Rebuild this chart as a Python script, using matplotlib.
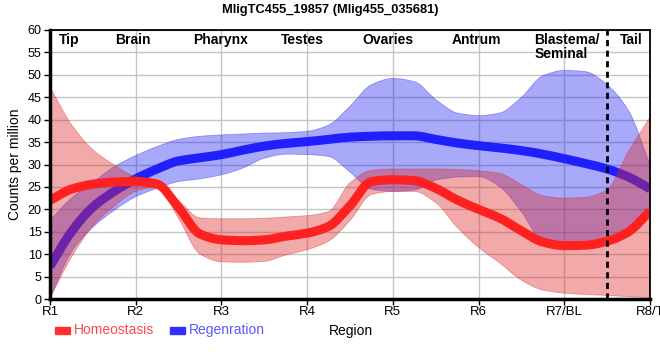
import numpy as np
import matplotlib
matplotlib.use("Agg")
import matplotlib.pyplot as plt
from matplotlib.patches import Rectangle, PathPatch
from matplotlib.path import Path

plt.rcParams['font.family'] = ['Liberation Sans', 'DejaVu Sans']

# positions along the body (region index), read every quarter region
pos = [1, 1.25, 1.5, 1.75, 2, 2.25, 2.5, 2.75, 3, 3.25, 3.5, 3.75, 4, 4.25, 4.5,
       4.75, 5, 5.25, 5.5, 5.75, 6, 6.25, 6.5, 6.75, 7, 7.25, 7.5, 7.75, 8]

regen_mean = [7.3, 15, 20.5, 24, 26.8, 29, 30.8, 31.5, 32.2, 33.2, 34.1, 34.7, 35.1, 35.6, 36.1,
              36.3, 36.4, 36.4, 35.6, 34.8, 34.2, 33.7, 33.1, 32.3, 31.3, 30.2, 29.0, 27.2, 24.6]
regen_hi = [17.5, 22.5, 26, 29.5, 32, 34, 35.6, 36.3, 36.6, 36.8, 37, 37.1, 37.4, 38.8, 43,
            47.8, 49.2, 48.5, 44.5, 41.5, 40.9, 41.5, 45, 49.8, 51, 50.7, 47.8, 42, 30]
regen_lo = [0.2, 10.5, 16, 19.8, 22.8, 24.7, 26.2, 26.8, 27.7, 29.2, 31.4, 32.3, 32.2, 31.8, 28.3,
            24.5, 24, 24.3, 26.5, 27.2, 27.3, 25, 19.5, 12.8, 12.2, 12.4, 13.5, 15.5, 20]

homeo_mean = [22, 24.5, 25.6, 26.1, 26.2, 25.6, 20.4, 14.5, 13.2, 13.0, 13.2, 14, 14.7, 16.2, 20.8,
              26.2, 26.6, 26.4, 24.7, 22.1, 20, 18, 15.2, 12.7, 11.9, 12, 12.9, 15, 19.6]
homeo_hi = [47.3, 38.9, 33.3, 29.9, 27.3, 26.6, 22, 18.1, 17.9, 17.9, 18, 18.3, 18.6, 19.5, 25.9,
            28.7, 29, 29, 29, 28.9, 28.6, 28, 25.5, 23, 22.5, 22.7, 24.4, 33, 40.5]
homeo_lo = [0.2, 9.3, 16.3, 20.7, 24, 25, 18, 10, 8.3, 8.2, 8.4, 9.8, 11, 12.9, 17.5,
            23.3, 24, 24, 21.5, 16, 11.5, 8, 4.2, 2, 1.3, 1, 0.8, 0.5, 0.3]

tick_labels = ["R1", "R2", "R3", "R4", "R5", "R6", "R7/BL", "R8/T"]
regions = ["Tip", "Brain", "Pharynx", "Testes", "Ovaries", "Antrum", "Blastema/\nSeminal", "Tail"]
region_pos = [1.22, 1.97, 2.99, 3.95, 4.94, 5.98, 6.65, 7.78]


def slopes(x, y):
    # monotone (Fritsch-Carlson) tangents so the curve does not overshoot
    x = np.asarray(x, float)
    y = np.asarray(y, float)
    h = np.diff(x)
    d = np.diff(y) / h
    m = np.zeros_like(y)
    m[0], m[-1] = d[0], d[-1]
    for i in range(1, len(y) - 1):
        if d[i - 1] * d[i] > 0:
            m[i] = 2 / (1 / d[i - 1] + 1 / d[i])
    return m


def smooth_verts(x, y):
    # bezier control points through the data points
    m = slopes(x, y)
    verts = [(x[0], y[0])]
    for i in range(len(x) - 1):
        h = x[i + 1] - x[i]
        verts += [(x[i] + h / 3, y[i] + m[i] * h / 3),
                  (x[i + 1] - h / 3, y[i + 1] - m[i + 1] * h / 3),
                  (x[i + 1], y[i + 1])]
    return verts


def smooth_line(ax, x, y, **kw):
    v = smooth_verts(x, y)
    codes = [Path.MOVETO] + [Path.CURVE4] * (len(v) - 1)
    ax.add_patch(PathPatch(Path(v, codes), fill=False, **kw))


def smooth_band(ax, x, lo, hi, **kw):
    top = smooth_verts(x, hi)
    bot = smooth_verts(x[::-1], lo[::-1])
    v = top + [bot[0]] + bot[1:] + [top[0]]
    codes = ([Path.MOVETO] + [Path.CURVE4] * (len(top) - 1) + [Path.LINETO]
             + [Path.CURVE4] * (len(bot) - 1) + [Path.CLOSEPOLY])
    ax.add_patch(PathPatch(Path(v, codes), **kw))


fig = plt.figure(figsize=(6.6, 3.6), dpi=100)
ax = fig.add_axes([50/660, 61/360, 600/660, 269/360])

smooth_band(ax, pos, regen_lo, regen_hi, facecolor="#2828f0", edgecolor="#2828f0", alpha=0.4, lw=0.6)
smooth_line(ax, pos, regen_mean, edgecolor="#2020ff", lw=6.5, joinstyle="round", capstyle="butt")
smooth_band(ax, pos, homeo_lo, homeo_hi, facecolor="#dc2828", edgecolor="#dc2828", alpha=0.4, lw=0.6)
smooth_line(ax, pos, homeo_mean, edgecolor="#ff2020", lw=6.5, joinstyle="round", capstyle="butt")

ax.axvline(7.5, color="black", lw=2, ls=(0, (2.2, 1.6)))

ax.set_xlim(1, 8)
ax.set_ylim(0, 60)
ax.set_xticks(range(1, 9))
ax.set_xticklabels(tick_labels, fontsize=9.5)
ax.set_yticks(range(0, 61, 5))
ax.tick_params(axis="y", labelsize=9, length=4, width=1, pad=2)
ax.tick_params(axis="x", length=4, width=1, pad=1)
ax.set_axisbelow(True)
ax.grid(True, color="#c4c4c4", lw=1)

for s in ["left", "bottom"]:
    ax.spines[s].set_linewidth(2.5)
for s in ["top", "right"]:
    ax.spines[s].set_linewidth(1.3)

for name, x in zip(regions, region_pos):
    ha = "left" if "/" in name else "center"
    ax.text(x, 59.3, name, ha=ha, va="top", fontsize=10, fontweight="bold", linespacing=1.0)

ax.set_ylabel("Counts per million", fontsize=10, labelpad=4)
fig.text(0.5, 0.972, "MligTC455_19857 (Mlig455_035681)", ha="center", va="center",
         fontsize=9.3, fontweight="bold")
fig.text(351/660, 1 - 331/360, "Region", ha="center", va="center", fontsize=10)

# legend under the axis
fig.patches.append(Rectangle((55/660, 1 - 334/360), 15/660, 7/360, color="#ff3030",
                             transform=fig.transFigure, figure=fig))
fig.text(74/660, 1 - 330/360, "Homeostasis", color="#ff4848", fontsize=10, va="center")
fig.patches.append(Rectangle((170/660, 1 - 334/360), 15/660, 7/360, color="#3030ff",
                             transform=fig.transFigure, figure=fig))
fig.text(189/660, 1 - 330/360, "Regenration", color="#5858ff", fontsize=10, va="center")

fig.savefig("out.png", dpi=100)
